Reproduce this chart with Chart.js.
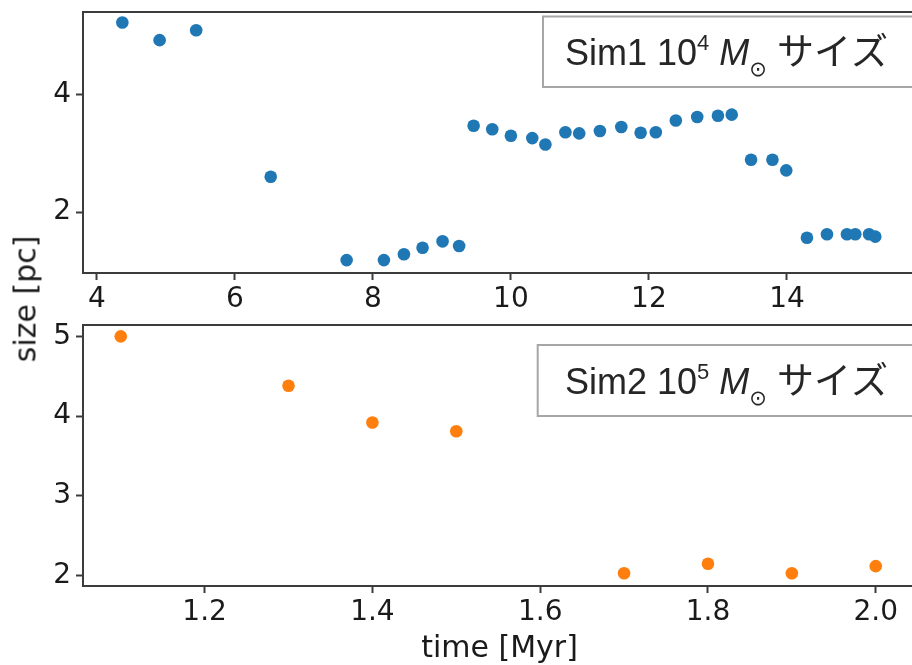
<!DOCTYPE html>
<html>
<head>
<meta charset="utf-8">
<script src="https://cdn.jsdelivr.net/npm/chart.js@4.4.0/dist/chart.umd.min.js"></script>
<style>
  body { margin: 0; background: #fff; overflow: hidden; }
  #wrap { position: relative; width: 912px; height: 665px; overflow: hidden; }
  canvas { position: absolute; left: 0; }
  #ytitle {
    position: absolute; left: 25px; top: 299px;
    transform: translate(-50%, -50%) rotate(-90deg);
    font: 30px "DejaVu Sans"; color: #1a1a1a; white-space: nowrap;
  }
</style>
</head>
<body>
<div id="wrap">
  <canvas id="topChart" width="924" height="320" style="top:0"></canvas>
  <canvas id="bottomChart" width="924" height="353" style="top:312px"></canvas>
  <div id="ytitle">size [pc]</div>
</div>
<script>
// Данные Sim1 (верхняя панель)
const sim1Time = [4.37, 4.91, 5.44, 6.52, 7.62, 8.16, 8.45, 8.72, 9.01, 9.25,
                  9.46, 9.73, 10.0, 10.31, 10.50, 10.79, 10.99, 11.29, 11.60, 11.88,
                  12.10, 12.39, 12.70, 13.0, 13.20, 13.48, 13.79, 13.99, 14.29, 14.58,
                  14.87, 14.99, 15.19, 15.28];
const sim1Size = [5.23, 4.93, 5.10, 2.60, 1.18, 1.18, 1.28, 1.39, 1.50, 1.42,
                  3.47, 3.41, 3.30, 3.26, 3.15, 3.36, 3.34, 3.38, 3.45, 3.35,
                  3.36, 3.56, 3.62, 3.64, 3.66, 2.89, 2.89, 2.71, 1.56, 1.62,
                  1.62, 1.62, 1.62, 1.58];

// Данные Sim2 (нижняя панель)
const sim2Time = [1.1, 1.3, 1.4, 1.5, 1.7, 1.8, 1.9, 2.0];
const sim2Size = [5.00, 4.38, 3.92, 3.81, 2.03, 2.15, 2.03, 2.12];

// Метки осей
const topXTicks = [4, 6, 8, 10, 12, 14];
const topYTicks = [2, 4];
const bottomXTicks = [1.2, 1.4, 1.6, 1.8, 2.0];
const bottomYTicks = [2, 3, 4, 5];

// Подписи легенды
const sim1Name = 'Sim1', sim1Exp = '4';
const sim2Name = 'Sim2', sim2Exp = '5';
const sizeWord = 'サイズ';
const xTitle = 'time [Myr]';

const spineColor = '#3c3c3c';
const textColor = '#1a1a1a';
const tickFont = { family: 'DejaVu Sans', size: 28 };

// Рамка вокруг области графика (как в matplotlib)
const framePlugin = {
  id: 'frame',
  afterDatasetsDraw(chart) {
    const a = chart.chartArea, ctx = chart.ctx;
    ctx.save();
    ctx.strokeStyle = spineColor;
    ctx.lineWidth = 2;
    ctx.strokeRect(a.left, a.top, a.right - a.left, a.bottom - a.top);
    ctx.restore();
  }
};

// Легенда с надстрочным индексом и ⊙
const simLegend = {
  id: 'simLegend',
  afterDraw(chart, args, opts) {
    const ctx = chart.ctx, a = chart.chartArea;
    ctx.save();
    const right = a.right - 1;
    ctx.fillStyle = '#fff';
    ctx.fillRect(opts.left, opts.top, right - opts.left, opts.height);
    ctx.strokeStyle = '#a6a6a6';
    ctx.lineWidth = 2;
    ctx.strokeRect(opts.left, opts.top, right - opts.left, opts.height);

    ctx.fillStyle = '#262626';
    ctx.textAlign = 'left';
    ctx.textBaseline = 'alphabetic';
    const parts = [
      { t: opts.name + ' 10', f: '36px "Liberation Sans"', dy: 0 },
      { t: opts.exp, f: '22px "Liberation Sans"', dy: -15 },
      { t: ' ', f: '36px "Liberation Sans"', dy: 0 },
      { t: 'M', f: 'italic 36px "Liberation Sans"', dy: 0 },
      { t: '\u2299', f: '21px "DejaVu Sans"', dy: 11 },
      { t: ' ', f: '36px "Liberation Sans"', dy: 0 },
      { t: sizeWord, f: '37px "Noto Sans CJK JP"', dy: 0 }
    ];
    let x = opts.textX;
    parts.forEach(p => {
      ctx.font = p.f;
      ctx.fillText(p.t, x, opts.baseline + p.dy);
      x += ctx.measureText(p.t).width;
    });
    ctx.restore();
  }
};

function fixedTicks(values) {
  return scale => { scale.ticks = values.map(v => ({ value: v })); };
}

function makeScales(xMin, xMax, xTicks, yMin, yMax, yTicks, xHeight, xFmt, withTitle) {
  return {
    x: {
      type: 'linear', min: xMin, max: xMax,
      afterBuildTicks: fixedTicks(xTicks),
      afterFit: s => { s.height = xHeight; s.paddingLeft = 0; s.paddingRight = 0; },
      border: { display: false },
      grid: { drawOnChartArea: false, drawTicks: true, tickLength: 7, tickWidth: 2, color: spineColor },
      ticks: { font: tickFont, color: textColor, padding: 3, maxRotation: 0, autoSkip: false,
               callback: v => xFmt(v) },
      title: withTitle ? { display: true, text: xTitle, color: textColor,
               font: { family: 'DejaVu Sans', size: 30, lineHeight: 1 }, padding: { top: 0, bottom: 1 } }
             : { display: false }
    },
    y: {
      type: 'linear', min: yMin, max: yMax,
      afterBuildTicks: fixedTicks(yTicks),
      afterFit: s => { s.width = 83; s.paddingTop = 0; s.paddingBottom = 0; },
      border: { display: false },
      grid: { drawOnChartArea: false, drawTicks: true, tickLength: 7, tickWidth: 2, color: spineColor },
      ticks: { font: tickFont, color: textColor, padding: 5, autoSkip: false,
               callback: v => String(v) }
    }
  };
}

const commonPlugins = { legend: { display: false }, tooltip: { enabled: false } };

// Верхний график — Sim1
new Chart(document.getElementById('topChart').getContext('2d'), {
  type: 'scatter',
  data: {
    datasets: [{
      label: sim1Name,
      data: sim1Time.map((t, i) => ({ x: t, y: sim1Size[i] })),
      backgroundColor: '#1f77b4', borderWidth: 0, pointRadius: 6.3
    }]
  },
  options: {
    responsive: false, animation: false, devicePixelRatio: 1,
    layout: { padding: { top: 12, right: 8, left: 0, bottom: 0 } },
    scales: makeScales(3.80, 15.87, topXTicks, 0.96, 5.41, topYTicks, 47, v => String(v), false),
    plugins: Object.assign({}, commonPlugins, {
      simLegend: { name: sim1Name, exp: sim1Exp, left: 543, top: 16.5, height: 70.5, textX: 565, baseline: 65 }
    })
  },
  plugins: [framePlugin, simLegend]
});

// Нижний график — Sim2
new Chart(document.getElementById('bottomChart').getContext('2d'), {
  type: 'scatter',
  data: {
    datasets: [{
      label: sim2Name,
      data: sim2Time.map((t, i) => ({ x: t, y: sim2Size[i] })),
      backgroundColor: '#ff7f0e', borderWidth: 0, pointRadius: 6.3
    }]
  },
  options: {
    responsive: false, animation: false, devicePixelRatio: 1,
    layout: { padding: { top: 13, right: 8, left: 0, bottom: 0 } },
    scales: makeScales(1.055, 2.048, bottomXTicks, 1.871, 5.142, bottomYTicks, 79, v => v.toFixed(1), true),
    plugins: Object.assign({}, commonPlugins, {
      simLegend: { name: sim2Name, exp: sim2Exp, left: 537.7, top: 33, height: 71, textX: 565, baseline: 82 }
    })
  },
  plugins: [framePlugin, simLegend]
});
</script>
</body>
</html>
